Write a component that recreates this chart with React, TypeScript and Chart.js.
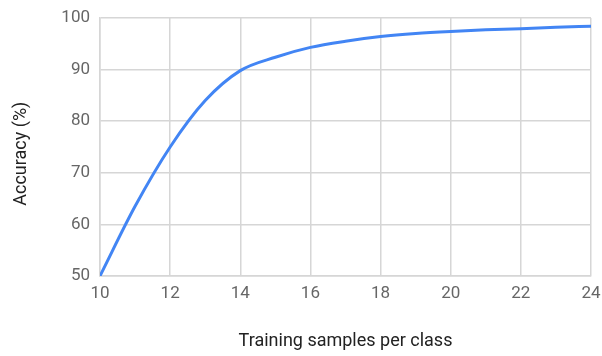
import React, { useEffect, useRef } from "react";
import { Chart, registerables } from "chart.js";

Chart.register(...registerables);

const samples = [10, 11, 12, 13, 14, 15, 16, 17, 18, 19, 20, 21, 22, 23, 24];
const accuracy = [50, 63.5, 75, 84, 89.8, 92.4, 94.3, 95.5, 96.4, 97, 97.4, 97.7, 97.9, 98.2, 98.4];
const xTicks = [10, 12, 14, 16, 18, 20, 22, 24];
const yTicks = [50, 60, 70, 80, 90, 100];

export default function App() {
  const ref = useRef<HTMLCanvasElement | null>(null);
  useEffect(() => {
    document.body.style.margin = "0";
    const ctx = ref.current!;
    const chart = new Chart(ctx, {
      type: "line",
      data: {
        datasets: [
          {
            data: samples.map((s, i) => ({ x: s, y: accuracy[i] })),
            borderColor: "#4285F4",
            borderWidth: 3,
            pointRadius: 0,
            cubicInterpolationMode: "monotone",
            fill: false,
          },
        ],
      },
      options: {
        animation: false,
        responsive: false,
        maintainAspectRatio: false,
        layout: { padding: { top: 18, right: 11, left: 0, bottom: 0 } },
        plugins: { legend: { display: false }, tooltip: { enabled: false } },
        scales: {
          x: {
            type: "linear",
            min: 10,
            max: 24,
            afterBuildTicks: (s: any) => {
              s.ticks = xTicks.map((v) => ({ value: v }));
            },
            afterFit: (s: any) => {
              s.height = 80;
              s.paddingLeft = 0;
              s.paddingRight = 0;
            },
            grid: { color: "#d6d6d6", lineWidth: 1.5, drawTicks: false },
            border: { color: "#d6d6d6", width: 1.5 },
            ticks: {
              padding: 8,
              color: "#666",
              font: { family: "Roboto", size: 17 },
              maxRotation: 0,
            },
            title: {
              display: true,
              text: "Training samples per class",
              color: "#222",
              font: { family: "Roboto", size: 18 },
              padding: { top: 0, bottom: 4 },
            },
          },
          y: {
            min: 50,
            max: 100,
            afterBuildTicks: (s: any) => {
              s.ticks = yTicks.map((v) => ({ value: v }));
            },
            afterFit: (s: any) => {
              s.width = 100;
              s.paddingTop = 0;
              s.paddingBottom = 0;
            },
            grid: { color: "#d6d6d6", lineWidth: 1.5, drawTicks: false },
            border: { color: "#d6d6d6", width: 1.5 },
            ticks: {
              padding: 10,
              color: "#666",
              font: { family: "Roboto", size: 17 },
            },
            title: {
              display: true,
              text: "Accuracy (%)   ",
              color: "#222",
              font: { family: "Roboto", size: 18 },
              padding: { top: 11, bottom: 0 },
            },
          },
        },
      },
    } as any);
    return () => chart.destroy();
  }, []);
  return (
    <div style={{ width: 602, height: 356 }}>
      <canvas ref={ref} width={602} height={356} />
    </div>
  );
}
